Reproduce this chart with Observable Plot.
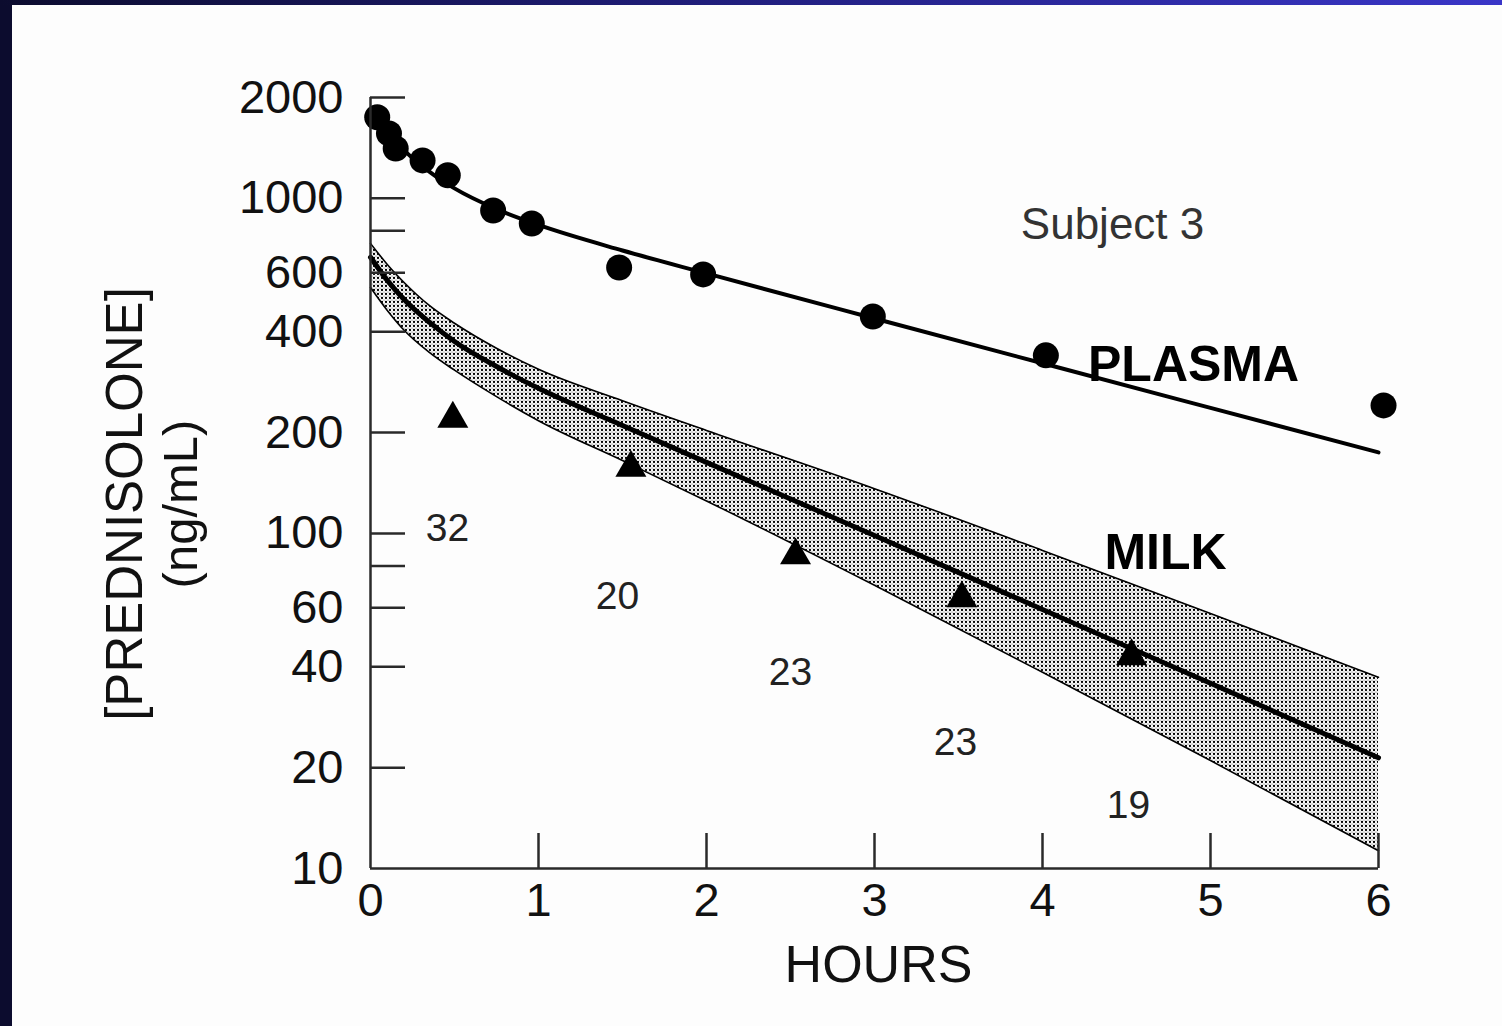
<!DOCTYPE html>
<html><head><meta charset="utf-8">
<script src="https://cdn.jsdelivr.net/npm/d3@7"></script>
<script src="https://cdn.jsdelivr.net/npm/@observablehq/plot@0.6"></script>
<style>
html,body{margin:0;padding:0;background:#fdfdfd;}
#wrap{position:relative;width:1502px;height:1026px;overflow:hidden;background:#fdfdfd;}
#wrap svg{position:absolute;left:0;top:0;}
.bl{position:absolute;left:0;top:0;width:12px;height:1026px;background:#0c0c2e;}
.bt{position:absolute;left:0;top:0;width:1502px;height:5px;background:linear-gradient(to right,#0c0c2e,#1f1d78 45%,#3a36c8);}
g[aria-label="ytick"] text, g[aria-label="xtick"] text {letter-spacing:3px;}
g[aria-label="ytitle"] text {letter-spacing:1px;}
g[aria-label="count"] text {letter-spacing:1.5px;}
</style></head><body><div id="wrap"></div>
<script>
// ---- data ----
const plasmaHours = [0.04, 0.11, 0.15, 0.31, 0.46, 0.73, 0.96, 1.48, 1.98, 2.99, 4.02, 6.03];
const plasmaConc  = [1746, 1563, 1409, 1298, 1172, 920, 841, 622, 593, 444, 340, 241];

const plasmaFitHours = [0, 0.1, 0.2, 0.35, 0.5, 0.75, 1, 1.5, 2, 3, 4, 5, 6];
const plasmaFitConc  = [1807, 1569, 1391, 1202, 1071, 929, 833, 699, 597, 438, 322, 237, 174.5];

const milkHours = [0.49, 1.55, 2.53, 3.52, 4.53];
const milkConc  = [220, 157, 86, 64, 43];

const milkFitHours = [0, 0.1, 0.2, 0.35, 0.5, 0.75, 1, 1.5, 2, 3, 4, 5, 6];
const milkFitConc  = [667, 569, 499, 427, 374, 315, 271, 210, 163, 98.6, 59.3, 35.7, 21.4];
const milkUpper    = [734, 635, 561, 479, 424, 357, 309, 249, 203, 136, 89, 57.7, 37.2];
const milkLower    = [542, 463, 404, 347, 307, 256, 217, 165, 125, 70, 38.5, 21, 11.3];

const countLabels = ["32", "20", "23", "23", "19"];
const countHours  = [0.458, 1.47, 2.5, 3.482, 4.512];
const countConc   = [103.5, 64.9, 38.5, 23.8, 15.4];

const seriesLabels = ["PLASMA", "MILK"];
const seriesLabelHours = [4.899, 4.732];
const seriesLabelConc  = [319, 87.2];

const subjectLabel = "Subject 3";
const subjectHours = 4.417;
const subjectConc  = 836;

const xTicks = [0, 1, 2, 3, 4, 5, 6];
const yTickLabels = [10, 20, 40, 60, 100, 200, 400, 600, 1000, 2000];
const yTickMarks  = [20, 40, 60, 80, 100, 200, 400, 600, 800, 1000, 2000];

const xTitle = "HOURS";
const yTitle1 = "[PREDNISOLONE]";
const yTitle2 = "(ng/mL)";

// ---- tables ----
const plasma = plasmaHours.map((h, i) => ({h, c: plasmaConc[i]}));
const plasmaFit = plasmaFitHours.map((h, i) => ({h, c: plasmaFitConc[i]}));
const milk = milkHours.map((h, i) => ({h, c: milkConc[i]}));
const band = milkFitHours.map((h, i) => ({h, mid: milkFitConc[i], hi: milkUpper[i], lo: milkLower[i]}));
const counts = countLabels.map((t, i) => ({t, h: countHours[i], c: countConc[i]}));
const series = seriesLabels.map((t, i) => ({t, h: seriesLabelHours[i], c: seriesLabelConc[i]}));

const W = 1502, H = 1026;
const mL = 370, mR = 124, mT = 97, mB = 158;
const frameW = W - mL - mR, frameH = H - mT - mB;
const font = "'Liberation Sans', Arial, Helvetica, sans-serif";
const axisColor = "#2a2a2a";

const chart = Plot.plot({
  width: W, height: H,
  marginLeft: mL, marginRight: mR, marginTop: mT, marginBottom: mB,
  style: {background: "transparent", fontFamily: font, color: "#111", overflow: "visible"},
  x: {domain: [0, 6], axis: null},
  y: {type: "log", domain: [10, 2000], axis: null},
  marks: [
    Plot.areaY(band, {x: "h", y1: "lo", y2: "hi", fill: "url(#stipple)", curve: "monotone-x"}),
    Plot.lineY(band, {x: "h", y: "hi", stroke: "#000", strokeWidth: 1.6, curve: "monotone-x"}),
    Plot.lineY(band, {x: "h", y: "lo", stroke: "#000", strokeWidth: 1.6, curve: "monotone-x"}),
    Plot.lineY(band, {x: "h", y: "mid", stroke: "#000", strokeWidth: 5, curve: "monotone-x"}),
    Plot.lineY(plasmaFit, {x: "h", y: "c", stroke: "#000", strokeWidth: 4, curve: "monotone-x"}),
    Plot.dot(plasma, {x: "h", y: "c", r: 13, fill: "#000", stroke: "none"}),
    Plot.dot(milk, {x: "h", y: "c", r: 11.5, symbol: "triangle", fill: "#000", stroke: "none"}),
    // axis lines and inward ticks
    Plot.ruleX([0], {stroke: axisColor, strokeWidth: 2.5}),
    Plot.ruleY([10], {stroke: axisColor, strokeWidth: 2.5}),
    Plot.tickY(yTickMarks, {y: d => d, insetRight: frameW - 35, stroke: axisColor, strokeWidth: 2.5}),
    Plot.tickX(xTicks.slice(1), {x: d => d, insetTop: frameH - 35, stroke: axisColor, strokeWidth: 2.5}),
    // tick labels
    Plot.text(yTickLabels, {y: d => d, text: d => String(d), frameAnchor: "left", dx: -27, textAnchor: "end", lineAnchor: "middle", fontSize: 47, fill: "#111", ariaLabel: "ytick"}),
    Plot.text(xTicks, {x: d => d, text: d => String(d), frameAnchor: "bottom", dx: 0, dy: 14, textAnchor: "middle", lineAnchor: "top", fontSize: 47, fill: "#111", ariaLabel: "xtick"}),
    // titles
    Plot.text([xTitle], {frameAnchor: "bottom", dx: 4, dy: 97, lineAnchor: "middle", fontSize: 52, fill: "#111"}),
    Plot.text([yTitle1], {frameAnchor: "left", rotate: -90, dx: 141 - mL, dy: 21, lineAnchor: "bottom", textAnchor: "middle", fontSize: 51, fill: "#111", ariaLabel: "ytitle"}),
    Plot.text([yTitle2], {frameAnchor: "left", rotate: -90, dx: 196 - mL, dy: 21, lineAnchor: "bottom", textAnchor: "middle", fontSize: 49, fill: "#111", ariaLabel: "ytitle"}),
    // annotations
    Plot.text([subjectLabel], {x: () => subjectHours, y: () => subjectConc, fontSize: 44, fill: "#333", lineAnchor: "middle"}),
    Plot.text(series, {x: "h", y: "c", text: "t", fontSize: 50, fontWeight: "bold", fill: "#000", lineAnchor: "middle"}),
    Plot.text(counts, {x: "h", y: "c", text: "t", fontSize: 39, fill: "#222", lineAnchor: "middle", ariaLabel: "count"})
  ]
});

// stipple pattern for the milk band
const ns = "http://www.w3.org/2000/svg";
const defs = document.createElementNS(ns, "defs");
defs.innerHTML = `<pattern id="stipple" width="4" height="4" patternUnits="userSpaceOnUse">
  <rect width="4" height="4" fill="#ffffff"/>
  <circle cx="2" cy="2" r="1.15" fill="#000"/>
  <circle cx="0" cy="0" r="0.6" fill="#444"/>
  <circle cx="4" cy="0" r="0.6" fill="#444"/>
  <circle cx="0" cy="4" r="0.6" fill="#444"/>
  <circle cx="4" cy="4" r="0.6" fill="#444"/>
</pattern>`;
chart.insertBefore(defs, chart.firstChild);

const wrap = document.getElementById("wrap");
wrap.appendChild(chart);
const bl = document.createElement("div"); bl.className = "bl"; wrap.appendChild(bl);
const bt = document.createElement("div"); bt.className = "bt"; wrap.appendChild(bt);
</script>
</body></html>
